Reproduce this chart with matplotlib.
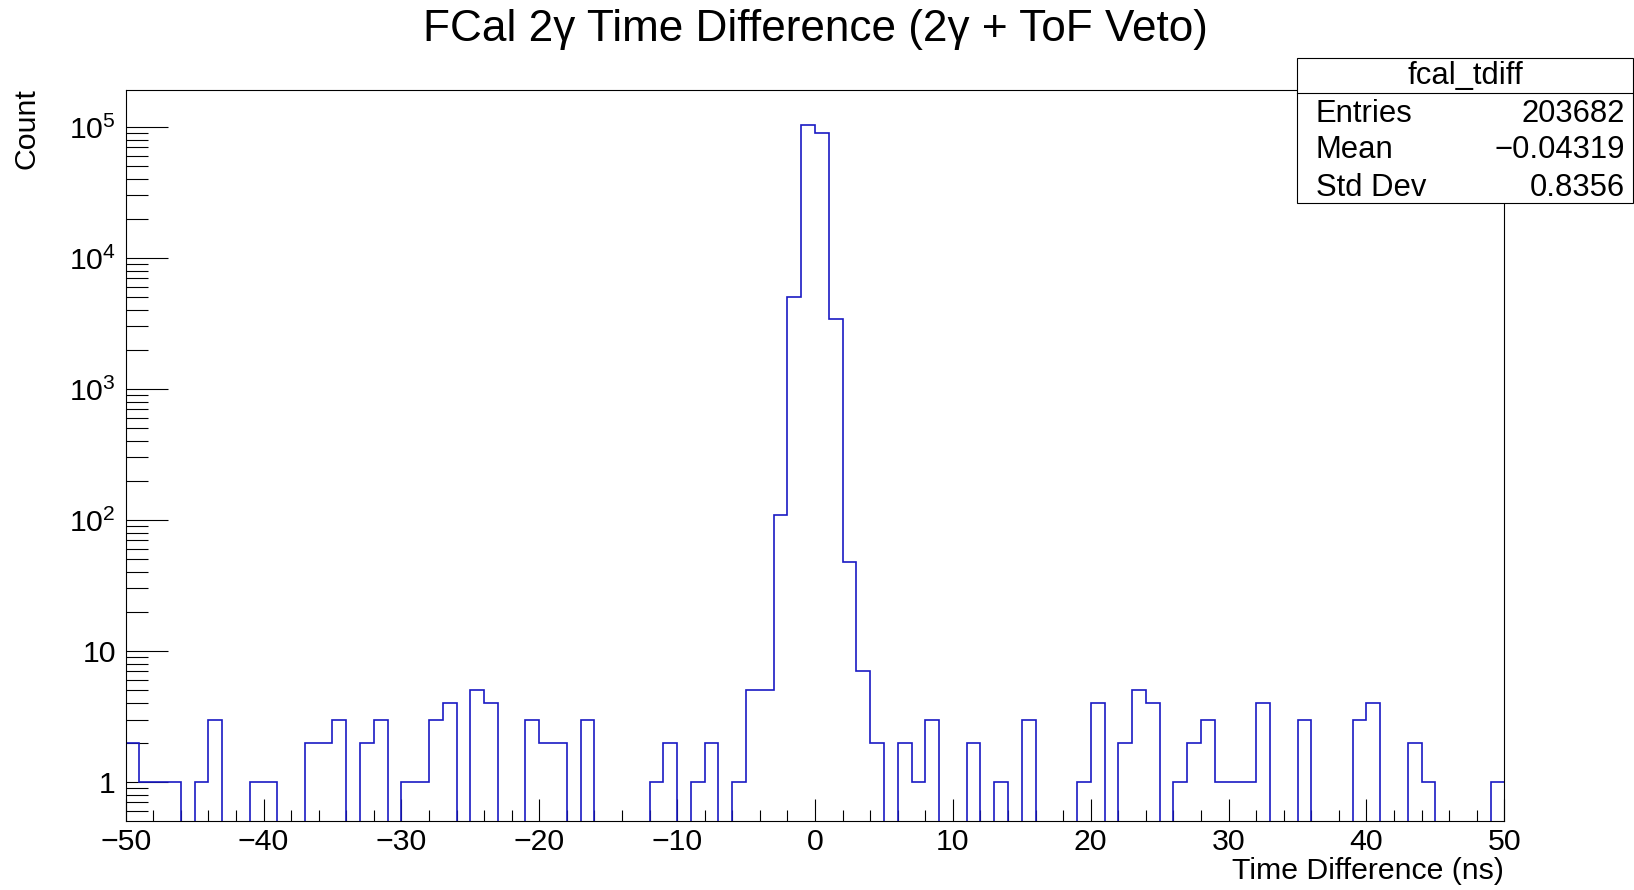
"""ROOT-style log histogram: FCal 2-gamma time difference (2g + ToF veto)."""

import numpy as np
import matplotlib

matplotlib.use("Agg")
import matplotlib.pyplot as plt
from matplotlib.patches import Rectangle
from matplotlib.ticker import FixedLocator, FixedFormatter, MultipleLocator

OUT = "out.png"

# 100 bins of 1 ns from -50 to 50
BIN_LO = -50
BIN_HI = 50
COUNTS = [
    2, 1, 1, 1, 0, 1, 3, 0, 0, 1,          # -50 .. -41
    1, 0, 0, 2, 2, 3, 0, 2, 3, 0,          # -40 .. -31
    1, 1, 3, 4, 0, 5, 4, 0, 0, 3,          # -30 .. -21
    2, 2, 0, 3, 0, 0, 0, 0, 1, 2,          # -20 .. -11
    0, 1, 2, 0, 1, 5, 5, 110, 5000, 104000,  # -10 .. -1
    90000, 3450, 48, 7, 2, 0, 2, 1, 3, 0,  # 0 .. 9
    0, 2, 0, 1, 0, 3, 0, 0, 0, 1,          # 10 .. 19
    4, 0, 2, 5, 4, 0, 1, 2, 3, 1,          # 20 .. 29
    1, 1, 4, 0, 0, 3, 0, 0, 0, 3,          # 30 .. 39
    4, 0, 0, 2, 1, 0, 0, 0, 0, 1,          # 40 .. 49
]
Y_TICKS = [1, 10, 100, 1000, 10000, 100000]
Y_TICK_LABELS = ["1", "10", r"$\mathregular{10^{2}}$", r"$\mathregular{10^{3}}$",
                 r"$\mathregular{10^{4}}$", r"$\mathregular{10^{5}}$"]

STATS_NAME = "fcal_tdiff"
STATS_ROWS = [("Entries", "203682"), ("Mean", "\u22120.04319"), ("Std Dev", "0.8356")]

TITLE = "FCal 2\u03b3 Time Difference (2\u03b3 + ToF Veto)"
XLABEL = "Time Difference (ns)"
YLABEL = "Count"

W, H = 1634, 890
C_LINE = "#1a1ac4"
FS = 21.8  # ROOT text size used for labels, ticks and the stats box


def fx(px):
    return px / W


def fy(py):
    return 1 - py / H


def main():
    plt.rcParams.update({
        "font.family": ["Liberation Sans", "DejaVu Sans"],
        "mathtext.fontset": "custom",
        "mathtext.rm": "Liberation Sans",
        "mathtext.it": "Liberation Sans:italic",
        "mathtext.bf": "Liberation Sans:bold",
    })
    fig = plt.figure(figsize=(W / 100, H / 100), dpi=100)
    left, right, top, bottom = 125.7, 1504.3, 90, 821
    ax = fig.add_axes([fx(left), fy(bottom), fx(right - left), (bottom - top) / H])

    counts = np.array(COUNTS, dtype=float)
    edges = np.arange(BIN_LO, BIN_HI + 1, 1)
    floor = 1e-3  # empty bins drop below the axis, as ROOT draws them
    ax.stairs(np.where(counts > 0, counts, floor), edges, baseline=None,
              color=C_LINE, lw=1.2, zorder=2)  # under the ticks, like ROOT

    ax.set_yscale("log")
    ax.set_xlim(BIN_LO, BIN_HI)
    ax.set_ylim(0.504, 1.915e5)

    ax.xaxis.set_major_locator(MultipleLocator(10))
    ax.xaxis.set_minor_locator(MultipleLocator(2))
    ax.yaxis.set_major_locator(FixedLocator(Y_TICKS))
    ax.yaxis.set_major_formatter(FixedFormatter(Y_TICK_LABELS))
    minors = [m * 10 ** d for d in range(-1, 6) for m in range(2, 10)]
    ax.yaxis.set_minor_locator(FixedLocator(minors))
    ax.yaxis.set_minor_formatter(FixedFormatter([""] * len(minors)))

    ax.tick_params(axis="x", which="major", direction="in", length=16, width=0.8,
                   labelsize=FS, pad=5)
    ax.tick_params(axis="x", which="minor", direction="in", length=8, width=0.8)
    ax.tick_params(axis="y", which="major", direction="in", length=30, width=0.8,
                   labelsize=FS, pad=7)
    ax.tick_params(axis="y", which="minor", direction="in", length=15.5, width=0.8)
    for s in ax.spines.values():
        s.set_linewidth(0.8)

    fig.text(fx((left + right) / 2), fy(30), TITLE, ha="center", va="center",
             fontsize=31.8)
    fig.text(fx(right), fy(871), XLABEL, ha="right", va="center", fontsize=FS)
    fig.text(fx(27), fy(88), YLABEL, ha="center", va="top", rotation=90,
             fontsize=FS)

    # stats box, top right, like ROOT's TPaveStats
    bx0, bx1, by0, by1, sep = 1297, 1633, 58.3, 203.3, 93.3
    fig.patches.append(Rectangle((fx(bx0), fy(by1)), fx(bx1 - bx0), (by1 - by0) / H,
                                 transform=fig.transFigure, fill=True,
                                 facecolor="white", edgecolor="black", lw=0.8,
                                 zorder=5))
    fig.add_artist(plt.Line2D([fx(bx0), fx(bx1)], [fy(sep), fy(sep)],
                              transform=fig.transFigure, color="black", lw=0.8,
                              zorder=6))
    fig.text(fx((bx0 + bx1) / 2), fy(76.5), STATS_NAME, ha="center", va="center",
             fontsize=FS + 0.5, zorder=7)
    for (name, val), yy in zip(STATS_ROWS, [114, 150.5, 188]):
        fig.text(fx(1316), fy(yy), name, ha="left", va="center", fontsize=FS + 0.5,
                 zorder=7)
        fig.text(fx(1624.5), fy(yy), val, ha="right", va="center", fontsize=FS + 0.5,
                 zorder=7)

    fig.savefig(OUT, dpi=100)


if __name__ == "__main__":
    main()
